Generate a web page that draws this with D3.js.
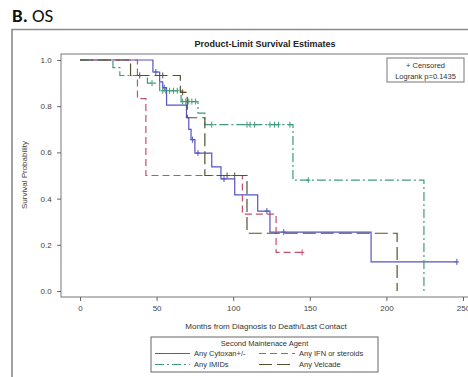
<!DOCTYPE html>
<html><head><meta charset="utf-8">
<script src="https://cdn.jsdelivr.net/npm/d3@7"></script>
<style>html,body{margin:0;padding:0;background:#fff;}svg{display:block;font-family:"Liberation Sans",Arial,sans-serif;}</style>
</head><body>
<script>
// ---- data ----
const groups = ["Any Cytoxan+/-", "Any IFN or steroids", "Any IMIDs", "Any Velcade"];
const cytoxanTimes = [0, 47.6, 52, 54, 56.5, 69.5, 71, 72.5, 75, 86, 92, 101, 116, 124, 190];
const cytoxanSurv  = [1, 0.948, 0.905, 0.88, 0.805, 0.75, 0.70, 0.655, 0.597, 0.537, 0.485, 0.416, 0.346, 0.255, 0.126];
const cytoxanCens  = [49.5, 55, 73.5, 77, 94, 122, 133, 246];
const ifnTimes = [0, 37.5, 43, 106, 128];
const ifnSurv  = [1, 0.833, 0.5, 0.333, 0.167];
const ifnCens  = [145];
const imidTimes = [0, 21.5, 26, 44, 52, 66, 77, 81.5, 139, 224.5];
const imidSurv  = [1, 0.967, 0.933, 0.90, 0.867, 0.82, 0.77, 0.72, 0.48, 0];
const imidCens  = [47, 54, 56, 58.5, 61, 63.5, 67, 69, 71, 73, 75.5, 86, 109, 111, 114, 124, 127, 129.5, 137, 149];
const velTimes = [0, 33, 65.5, 70, 81.5, 109, 207];
const velSurv  = [1, 0.933, 0.86, 0.75, 0.5, 0.25, 0];
const velCens  = [39, 54, 67, 96, 101];
const xTicks = [0, 50, 100, 150, 200, 250];
const yTicks = [0, 0.2, 0.4, 0.6, 0.8, 1.0];
const logrankText = "Logrank p=0.1435";

const series = [
  {name: groups[0], t: cytoxanTimes, s: cytoxanSurv, c: cytoxanCens, color: "#5454c4", dash: null},
  {name: groups[1], t: ifnTimes, s: ifnSurv, c: ifnCens, color: "#c4506e", dash: "7,4"},
  {name: groups[2], t: imidTimes, s: imidSurv, c: imidCens, color: "#3f9a7e", dash: "9,3,2,3"},
  {name: groups[3], t: velTimes, s: velSurv, c: velCens, color: "#57502f", dash: "13,5"}
];

const W = 468, H = 377;
const svg = d3.select("body").append("svg").attr("width", W).attr("height", H);

// header
const hdr = svg.append("text").attr("x", 12).attr("y", 22).attr("font-family", "Carlito, 'Open Sans', sans-serif").attr("font-size", 19).attr("fill", "#111");
hdr.append("tspan").attr("font-weight", "bold").text("B.");
hdr.append("tspan").text(" OS");

// outer frame
svg.append("path").attr("d", "M12,377 V29.5 H468").attr("fill", "none").attr("stroke", "#8a8a8a").attr("stroke-width", 1.6);

svg.append("text").attr("x", 265).attr("y", 47).attr("text-anchor", "middle")
  .attr("font-size", 9).attr("font-weight", "bold").attr("fill", "#222").text("Product-Limit Survival Estimates");

const x = d3.scaleLinear().domain([0, 250]).range([80, 463]);
const y = d3.scaleLinear().domain([0, 1]).range([291, 60]);

// plot frame
svg.append("rect").attr("x", 61).attr("y", 54).attr("width", 420).attr("height", 243)
  .attr("fill", "none").attr("stroke", "#777").attr("stroke-width", 1);

// axes
const xAxis = d3.axisBottom(x).tickValues(xTicks).tickFormat(d3.format("d")).tickSize(4).tickSizeOuter(0);
const gx = svg.append("g").attr("transform", "translate(0,297)").call(xAxis);
gx.select(".domain").remove();
gx.selectAll("line").attr("stroke", "#666");
gx.selectAll("text").attr("font-size", 8).attr("fill", "#444").attr("dy", "0.9em");

const yAxis = d3.axisLeft(y).tickValues(yTicks).tickFormat(d3.format(".1f")).tickSize(4).tickSizeOuter(0);
const gy = svg.append("g").attr("transform", "translate(61,0)").call(yAxis);
gy.select(".domain").remove();
gy.selectAll("line").attr("stroke", "#666");
gy.selectAll("text").attr("font-size", 8).attr("fill", "#444").attr("dx", "-0.3em");

svg.append("text").attr("transform", "translate(27,175) rotate(-90)").attr("text-anchor", "middle")
  .attr("font-size", 8).attr("fill", "#444").text("Survival Probability");
svg.append("text").attr("x", 266).attr("y", 329).attr("text-anchor", "middle")
  .attr("font-size", 8).attr("fill", "#333").text("Months from Diagnosis to Death/Last Contact");

// curves
function stepAt(sr, t) {
  let v = sr.s[0];
  for (let i = 0; i < sr.t.length; i++) if (sr.t[i] <= t) v = sr.s[i];
  return v;
}
series.forEach(sr => {
  const pts = [];
  for (let i = 0; i < sr.t.length; i++) {
    if (i > 0) pts.push([sr.t[i], sr.s[i - 1]]);
    pts.push([sr.t[i], sr.s[i]]);
  }
  const last = sr.t[sr.t.length - 1];
  const maxC = d3.max(sr.c);
  if (maxC > last) pts.push([maxC, sr.s[sr.s.length - 1]]);
  const line = d3.line().x(d => x(d[0])).y(d => y(d[1]));
  svg.append("path").attr("d", line(pts)).attr("fill", "none").attr("stroke", sr.color)
    .attr("stroke-width", 1.2).attr("stroke-dasharray", sr.dash);
  sr.c.forEach(ct => {
    const cx = x(ct), cy = y(stepAt(sr, ct));
    svg.append("path").attr("d", `M${cx - 2.2},${cy}H${cx + 2.2}M${cx},${cy - 3}V${cy + 3}`)
      .attr("stroke", sr.color).attr("stroke-width", 1);
  });
});

// censor legend box
svg.append("rect").attr("x", 387).attr("y", 58).attr("width", 77).attr("height", 24)
  .attr("fill", "#fff").attr("stroke", "#777").attr("stroke-width", 1);
svg.append("text").attr("x", 425.5).attr("y", 68).attr("text-anchor", "middle").attr("font-size", 7.5).attr("fill", "#333").text("+ Censored");
svg.append("text").attr("x", 425.5).attr("y", 79).attr("text-anchor", "middle").attr("font-size", 7.5).attr("fill", "#333").text(logrankText);

// bottom legend
svg.append("rect").attr("x", 151).attr("y", 337).attr("width", 227).attr("height", 35)
  .attr("fill", "#fff").attr("stroke", "#666").attr("stroke-width", 1);
svg.append("text").attr("x", 264.5).attr("y", 346).attr("text-anchor", "middle").attr("font-size", 7.5).attr("fill", "#333").text("Second Maintenace Agent");
const legPos = [[155, 356], [259, 356], [155, 367], [259, 367]];
series.forEach((sr, i) => {
  const [lx, ly] = legPos[i];
  svg.append("line").attr("x1", lx).attr("x2", lx + (i % 2 ? 36 : 35)).attr("y1", ly - 2.5).attr("y2", ly - 2.5)
    .attr("stroke", sr.color).attr("stroke-width", 1.1).attr("stroke-dasharray", sr.dash);
  svg.append("text").attr("x", lx + (i % 2 ? 40 : 39)).attr("y", ly).attr("font-size", 7.5).attr("fill", "#333").text(sr.name);
});
</script>
</body></html>
